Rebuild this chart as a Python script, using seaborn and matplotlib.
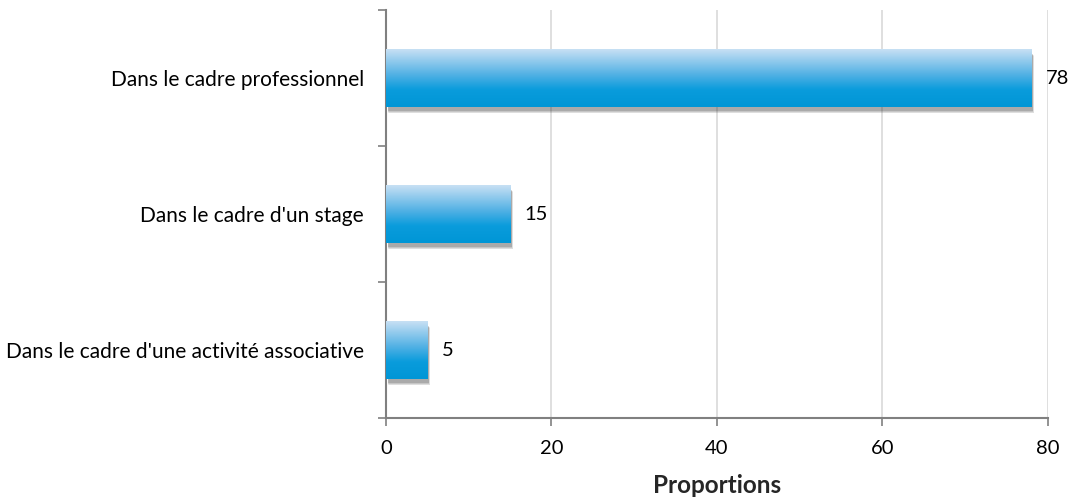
import numpy as np
import pandas as pd
import matplotlib
matplotlib.use("Agg")
import matplotlib.pyplot as plt
import seaborn as sns
from matplotlib.colors import LinearSegmentedColormap
from matplotlib.patches import Rectangle

categories = [
    "Dans le cadre professionnel",
    "Dans le cadre d'un stage",
    "Dans le cadre d'une activité associative",
]
values = [78, 15, 5]
x_ticks = [0, 20, 40, 60, 80]

sns.set_theme(style="white")
plt.rcParams["font.family"] = ["Lato", "DejaVu Sans"]

df = pd.DataFrame({"categorie": categories, "proportion": values})

fig = plt.figure(figsize=(10.71, 5.0), dpi=100)
ax = fig.add_axes([0.3604, 0.164, 0.6181, 0.816])

sns.barplot(data=df, x="proportion", y="categorie", orient="h",
            width=0.42, color="#0096D6", ax=ax, zorder=3)

# gradient fill and soft drop shadow for each bar
grad = LinearSegmentedColormap.from_list(
    "barfill", [(0.0, "#C8E0F4"), (0.45, "#4FB0E4"), (0.7, "#0A9CDC"), (1.0, "#0096D6")])
gimg = np.linspace(0, 1, 256).reshape(-1, 1)
for p in list(ax.patches):
    x0, y0 = p.get_x(), p.get_y()
    w, h = p.get_width(), p.get_height()
    for k, a in enumerate([0.07, 0.10, 0.14, 0.20]):
        off = 0.012 * (4 - k)
        sh = Rectangle((x0 + 0.15 + off * 4, y0 + 0.03 + off * 0.4), w, h,
                       facecolor="#3A3A3A", edgecolor="none", alpha=a, zorder=2)
        ax.add_patch(sh)
    p.set_facecolor("none")
    p.set_edgecolor("none")
    im = ax.imshow(gimg, cmap=grad, aspect="auto",
                   extent=(x0, x0 + w, y0 + h, y0), zorder=3, interpolation="bicubic")
    clip = Rectangle((x0, y0), w, h, transform=ax.transData)
    im.set_clip_path(clip)

ax.set_xlim(0, 80)
ax.set_ylim(2.5, -0.5)

for i, v in enumerate(values):
    ax.text(v + 1.7, i, f"{v}", va="center", ha="left", fontsize=14.5, color="black")

ax.set_xticks(x_ticks)
ax.set_xticklabels([str(t) for t in x_ticks], fontsize=14.5)
ax.set_yticks([0, 1, 2])
ax.set_yticklabels(categories, fontsize=15)
ax.set_xlabel("Proportions", fontsize=17.5, fontweight="bold", labelpad=12)
ax.set_ylabel("")

ax.xaxis.grid(True, color="#D9D9D9", linewidth=1.2, zorder=0)
ax.set_axisbelow(True)

for s in ["top", "right"]:
    ax.spines[s].set_visible(False)
for s in ["left", "bottom"]:
    ax.spines[s].set_color("#808080")
    ax.spines[s].set_linewidth(1.5)

# category boundary ticks on the left axis
ax.set_yticks([-0.5, 0.5, 1.5, 2.5], minor=True)
ax.tick_params(axis="y", which="major", left=False, length=0, pad=16, colors="black")
ax.tick_params(axis="y", which="minor", left=True, length=6, width=1.2,
               color="#808080", direction="out")
ax.tick_params(axis="x", which="major", bottom=True, length=6, width=1.2,
               color="#808080", labelcolor="black", direction="out", pad=10)

fig.savefig("out.png", dpi=100)
